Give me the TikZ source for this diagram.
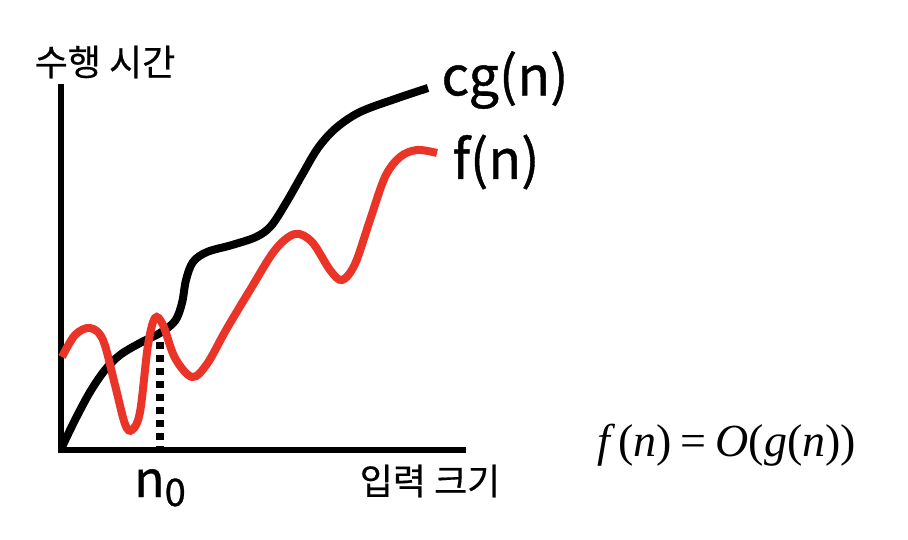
\documentclass[tikz,border=0pt]{standalone}
\usepackage{fontspec}
\newfontfamily\kofont[FakeBold=0.4]{Noto Sans CJK KR}
\newfontfamily\kofontb[FakeBold=0.8]{Noto Sans CJK KR}
\newfontfamily\tnr{Liberation Serif}
\definecolor{cred}{RGB}{235,52,40}
\begin{document}
\begin{tikzpicture}[x=1pt,y=-1pt,
  axis/.style={line width=5.5pt},
  curveline/.style={line width=8pt},
  lbl/.style={font=\kofont\fontsize{36}{40}\selectfont, inner sep=0pt},
  flbl/.style={font=\kofontb\fontsize{54}{60}\selectfont, inner sep=0pt}]
\useasboundingbox (0,0) rectangle (908,540);
\coordinate (top) at (61,84);
\coordinate (org) at (61,450);
\coordinate (xend) at (466,450);
\draw[axis] (top) -- (org) -- (xend);
% cg(n)
\draw[curveline, black] plot[smooth, tension=0.55] coordinates {
 (62,447) (75,420) (90,392) (105,370) (120,355) (140,343) (160,333) (175,321)
 (182,303) (186,280) (193,262) (207,252) (232,245) (256,237) (271,226)
 (286,203) (302,175) (318,148) (336,128) (360,112) (395,99) (428,88)};
% f(n)
\draw[curveline, cred] plot[smooth, tension=0.55] coordinates {
 (62,357) (75,335) (90,328) (103,340) (115,385) (125,424) (132,430) (140,412)
 (148,345) (155,318) (163,325) (175,358) (192,377) (207,364) (226,330) (250,290)
 (275,250) (295,234) (312,242) (330,270) (342,280) (355,264) (370,220) (385,177)
 (400,157) (417,150) (437,153)};
\coordinate (dtop) at (160,342);
\coordinate (dbot) at (160,448);
\draw[line width=7.5pt, dash pattern=on 7pt off 6pt] (dtop) -- (dbot);
\node[lbl] (ylab) at (105,62) {수행 시간};
\node[lbl] (xlab) at (430,481) {입력 크기};
\node[flbl] (cg) at (505,80) {cg(n)};
\node[flbl] (fn) at (496,162) {f(n)};
\node[font=\kofontb\fontsize{50}{56}\selectfont, inner sep=0pt, anchor=base] (n0) at (160,497)
 {n\raisebox{-9pt}{\fontsize{38}{40}\selectfont 0}};
\node[font=\tnr\fontsize{46}{52}\selectfont, inner sep=0pt] (eq) at (727,445)
 {\textit{f}\kern2pt(\textit{n})\kern9pt=\kern9pt\textit{O}(\textit{g}(\textit{n}))};
\end{tikzpicture}
\end{document}
